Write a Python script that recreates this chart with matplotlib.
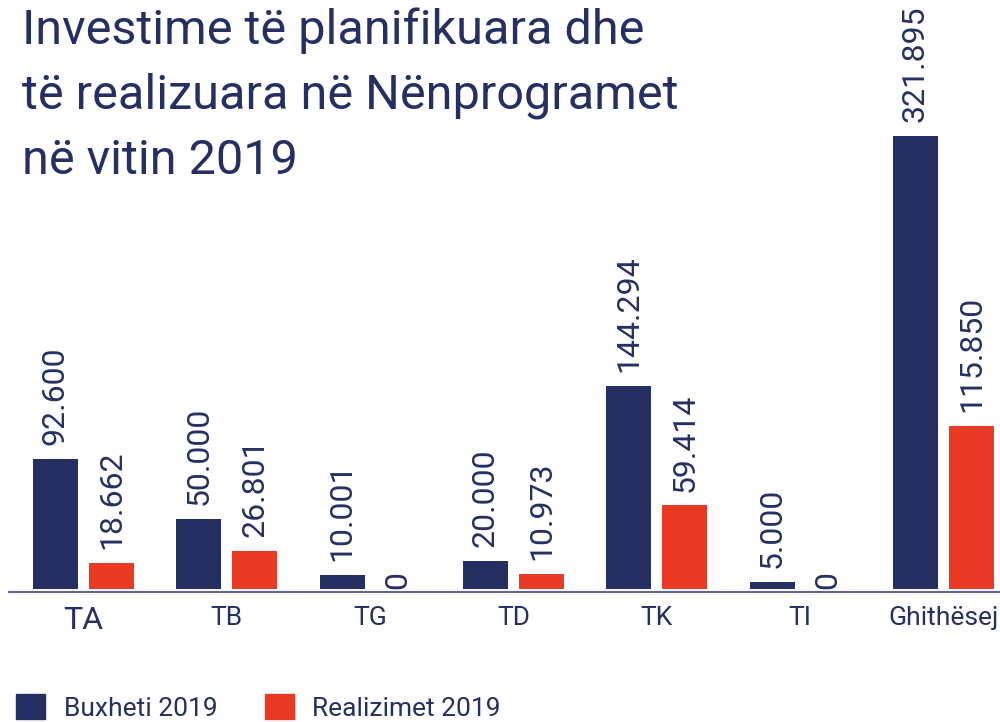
import matplotlib
matplotlib.use("Agg")
import matplotlib.pyplot as plt
from matplotlib.patches import Patch
import numpy as np

categories = ["TA", "TB", "TG", "TD", "TK", "TI", "Ghithësej"]
buxheti = [92.600, 50.000, 10.001, 20.000, 144.294, 5.000, 321.895]
realizimet = [18.662, 26.801, 0.0, 10.973, 59.414, 0.0, 115.850]
series_names = ["Buxheti 2019", "Realizimet 2019"]
title = "Investime të planifikuara dhe\ntë realizuara në Nënprogramet\nnë vitin 2019"

NAVY = "#252f62"
RED = "#e83a25"
AXIS = "#5f6791"
FONT = ["Roboto", "DejaVu Sans"]
plt.rcParams["font.family"] = FONT
plt.rcParams["font.weight"] = "normal"

fig = plt.figure(figsize=(10, 7.22), dpi=100)
ax = fig.add_axes([9 / 1000, 130 / 722, 991 / 1000, 592 / 722])

x = np.arange(len(categories))
off = 0.1954
w = 0.314
ax.bar(x - off, buxheti, width=w, color=NAVY)
ax.bar(x + off, realizimet, width=w, color=RED)

ax.set_xlim(-0.5198, 6.3944)
ax.set_ylim(-2.13, 418.6)


def fmt(v):
    return "0" if v == 0 else f"{v:.3f}"


for xi, v in zip(x - off, buxheti):
    ax.annotate(fmt(v), (xi, v), xytext=(0, 10), textcoords="offset points",
                rotation=90, ha="center", va="bottom", color=NAVY, fontsize=23)
for xi, v in zip(x + off, realizimet):
    ax.annotate(fmt(v), (xi, v), xytext=(0, 10 if v else 0), textcoords="offset points",
                rotation=90, ha="center", va="bottom", color=NAVY, fontsize=23)

ax.set_xticks(x)
ax.set_xticklabels(categories, color=NAVY)
sizes = [23, 19, 19, 19, 19, 19, 19]
for lab, s in zip(ax.get_xticklabels(), sizes):
    lab.set_fontsize(s)
ax.tick_params(axis="x", length=0, pad=10)
ax.set_yticks([])
for s in ["top", "left", "right"]:
    ax.spines[s].set_visible(False)
ax.spines["bottom"].set_color(AXIS)
ax.spines["bottom"].set_linewidth(1.5)

fig.text(0.022, 1 - 7 / 722, title, va="top", ha="left", color=NAVY,
         fontsize=35, linespacing=1.53)

handles = [Patch(color=NAVY), Patch(color=RED)]
fig.legend(handles, series_names, loc="upper left", bbox_to_anchor=(16 / 1000, 1 - 694 / 722),
           frameon=False, fontsize=19, handlelength=1.1, handleheight=1.1,
           handletextpad=0.7, columnspacing=1.8, ncol=2, borderpad=0, borderaxespad=0,
           labelcolor=NAVY)

fig.savefig("out.png", dpi=100)
